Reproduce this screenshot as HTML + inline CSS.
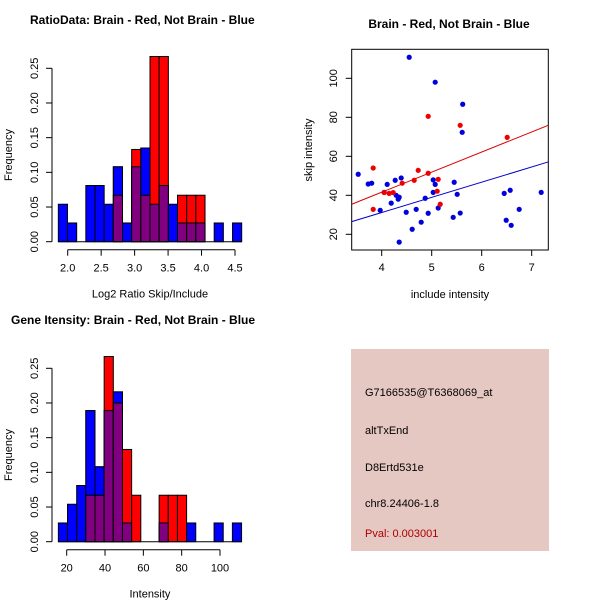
<!DOCTYPE html>
<html><head><meta charset="utf-8"><style>
body{margin:0;background:#fff}
svg{display:block;font-family:"Liberation Sans",sans-serif}
</style></head><body>
<svg id="c" width="600" height="600" xmlns="http://www.w3.org/2000/svg">
<rect width="600" height="600" fill="#fff"/>
<g id="g"></g>
</svg>
<script>
// Histogram 1: log2 ratio
const h1Start = 1.86, h1Width = 0.137;
const h1Blue = [0.054,0.027,0,0.081,0.081,0.054,0.108,0.027,0.108,0.135,0.054,0.081,0.054,0.027,0.027,0.027,0,0.027,0,0.027];
const h1Red  = [0,0,0,0,0,0,0.067,0,0.133,0.067,0.267,0.267,0,0.067,0.067,0.067,0,0,0,0];
const h1XTicks = [2.0,2.5,3.0,3.5,4.0,4.5];
const yTicks = [0,0.05,0.10,0.15,0.20,0.25];
// Histogram 2: intensity
const h2Start = 15.65, h2Width = 4.78;
const h2Blue = [0.027,0.054,0.081,0.189,0.108,0.189,0.216,0.027,0,0,0,0.027,0,0,0.027,0,0,0.027,0,0.027];
const h2Red  = [0,0,0,0.067,0.067,0.267,0.200,0.133,0.067,0,0,0.067,0.067,0.067,0,0,0,0,0,0];
const h2XTicks = [20,40,60,80,100];
// Scatter
const blueX = [3.53,3.73,3.8,4.11,4.05,4.27,4.39,4.29,4.35,4.33,4.19,3.97,4.49,4.69,4.87,4.79,4.61,4.35,4.55,5.07,5.03,5.07,5.03,4.93,5.13,5.45,5.51,5.43,5.57,5.62,5.61,6.45,6.57,6.49,6.59,6.75,7.19];
const blueY = [50.8,45.8,46.2,45.6,41.5,47.7,48.9,40,39,38,36,32.3,31.3,32.8,38.5,26.2,22.6,16,110.8,98,47.9,45.6,41.5,30.8,33.5,46.7,40.5,28.7,30.9,86.7,72.3,41,42.6,27.2,24.6,32.8,41.5];
const redX = [4.93,5.57,6.51,3.83,3.83,4.73,4.93,4.65,4.41,5.13,5.11,5.17,4.05,4.15,4.23];
const redY = [80.5,75.9,69.7,54,32.8,52.8,51.3,47.7,46.2,48.2,42.1,35.4,41.4,41,41.4];
const redFit = [0.38,10.3], blueFit = [0.0,7.79];
const sXTicks = [4,5,6,7], sYTicks = [20,40,60,80,100];

const NS="http://www.w3.org/2000/svg", G=document.getElementById('g');
function el(t,a,txt){const e=document.createElementNS(NS,t);for(const k in a)e.setAttribute(k,a[k]);if(txt!=null)e.textContent=txt;G.appendChild(e);return e;}

function hist(prefix,top,x0v,x1v,x0p,x1p,start,w,blue,red,xt,title,xlab){
  const y0=top+201.7, yk=173.4/0.25;
  const X=v=>x0p+(v-x0v)*(x1p-x0p)/(x1v-x0v), Y=v=>y0-v*yk;
  let t=el('text',{x:6,y:top-16,'font-size':12,'font-weight':'bold'},title);
  
  for(let i=0;i<blue.length;i++){
    const a=X(start+i*w), b=X(start+(i+1)*w), bl=blue[i], rd=red[i];
    if(bl>0){let r=el('rect',{x:a,y:Y(bl),width:b-a,height:y0-Y(bl),fill:'#0000ff',stroke:'#000','stroke-width':1});
      }
    if(rd>0){const m=Math.min(bl,rd);
      let r=el('rect',{x:a,y:Y(rd),width:b-a,height:y0-Y(rd),fill:'#ff0000',stroke:'#000','stroke-width':1});
      
      if(m>0){let p=el('rect',{x:a,y:Y(m),width:b-a,height:y0-Y(m),fill:'#800080',stroke:'#000','stroke-width':1});
        }
      if(bl>rd){let r2=el('rect',{x:a,y:Y(bl),width:b-a,height:Y(rd)-Y(bl),fill:'#0000ff',stroke:'#000','stroke-width':1});
        }
    }
  }
  el('line',{x1:X(start),x2:X(start+blue.length*w),y1:y0,y2:y0,stroke:'#000'});
  // y axis
  el('line',{x1:52,x2:52,y1:Y(0),y2:Y(0.25),stroke:'#000'});
  yTicks.forEach(v=>{el('line',{x1:46,x2:52,y1:Y(v),y2:Y(v),stroke:'#000'});
    let tt=el('text',{x:0,y:0,'font-size':11,'text-anchor':'middle',transform:`translate(38,${Y(v)}) rotate(-90)`},v.toFixed(2));
    });
  let yl=el('text',{x:0,y:0,'font-size':11,'text-anchor':'middle',transform:`translate(12,${Y(0.125)}) rotate(-90)`},'Frequency');
  
  const ay=y0+8;
  el('line',{x1:X(xt[0]),x2:X(xt[xt.length-1]),y1:ay,y2:ay,stroke:'#000'});
  xt.forEach(v=>{el('line',{x1:X(v),x2:X(v),y1:ay,y2:ay+6,stroke:'#000'});
    let tt=el('text',{x:X(v),y:ay+22,'font-size':11,'text-anchor':'middle'},prefix==='ratio'?v.toFixed(1):v);
    });
  let xl=el('text',{x:(X(start)+X(start+blue.length*w))/2,y:y0+56,'font-size':11,'text-anchor':'middle'},xlab);
  
}
hist('ratio',40,2.0,4.5,67.7,235,h1Start,h1Width,h1Blue,h1Red,h1XTicks,'RatioData: Brain - Red, Not Brain - Blue','Log2 Ratio Skip/Include');
hist('intensity',340,20,100,66.7,220,h2Start,h2Width,h2Blue,h2Red,h2XTicks,'Gene Itensity: Brain - Red, Not Brain - Blue','Intensity');
document.querySelectorAll('text').forEach(t=>{if(t.textContent.startsWith('RatioData'))t.setAttribute('x',30);if(t.textContent.startsWith('Gene'))t.setAttribute('x',11);});

// scatter
const L=351.7,R=548.3,T=49.3,B=250;
const SX=v=>381.7+(v-4)*50, SY=v=>234.3-(v-20)*1.95;
let st=el('text',{x:449,y:28,'font-size':12,'font-weight':'bold','text-anchor':'middle'},'Brain - Red, Not Brain - Blue');

let fr=el('rect',{x:L,y:T,width:R-L,height:B-T,fill:'none',stroke:'#000'});

const cp=el('clipPath',{id:'cp'});const cr=document.createElementNS(NS,'rect');
cr.setAttribute('x',L);cr.setAttribute('y',T);cr.setAttribute('width',R-L);cr.setAttribute('height',B-T);cp.appendChild(cr);
[[redFit,'#dd0000','red-fit-line'],[blueFit,'#0000cc','blue-fit-line']].forEach(([f,c,n])=>{
  const xa=3.4,xb=7.33;
  let ln=el('line',{x1:SX(xa),y1:SY(f[0]+f[1]*xa),x2:SX(xb),y2:SY(f[0]+f[1]*xb),stroke:c,'stroke-width':1,'clip-path':'url(#cp)'});
  });
blueX.forEach((v,i)=>{let c=el('circle',{cx:SX(v),cy:SY(blueY[i]),r:2.6,fill:'#0000dd'});
  });
redX.forEach((v,i)=>{let c=el('circle',{cx:SX(v),cy:SY(redY[i]),r:2.6,fill:'#ee0000'});
  });
sXTicks.forEach(v=>{el('line',{x1:SX(v),x2:SX(v),y1:B,y2:B+6,stroke:'#000'});
  let tt=el('text',{x:SX(v),y:B+21,'font-size':11,'text-anchor':'middle'},v);
  });
sYTicks.forEach(v=>{el('line',{x1:L-6,x2:L,y1:SY(v),y2:SY(v),stroke:'#000'});
  let tt=el('text',{x:0,y:0,'font-size':11,'text-anchor':'middle',transform:`translate(337,${SY(v)}) rotate(-90)`},v);
  });
let sxl=el('text',{x:450,y:298,'font-size':11,'text-anchor':'middle'},'include intensity');

let syl=el('text',{x:0,y:0,'font-size':11,'text-anchor':'middle',transform:'translate(312,150) rotate(-90)'},'skip intensity');


// info box
let bx=el('rect',{x:351,y:349,width:198,height:202,fill:'#e6c8c2'});

[['G7166535@T6368069_at',396,'#000','probe-id'],['altTxEnd',434,'#000','event-type'],['D8Ertd531e',471,'#000','gene-name'],['chr8.24406-1.8',507,'#000','location'],['Pval: 0.003001',537,'#aa0000','p-value']].forEach(([s,y,c,n])=>{
  let tt=el('text',{x:365,y:y,'font-size':11,fill:c},s);
  });
</script>
</body></html>
